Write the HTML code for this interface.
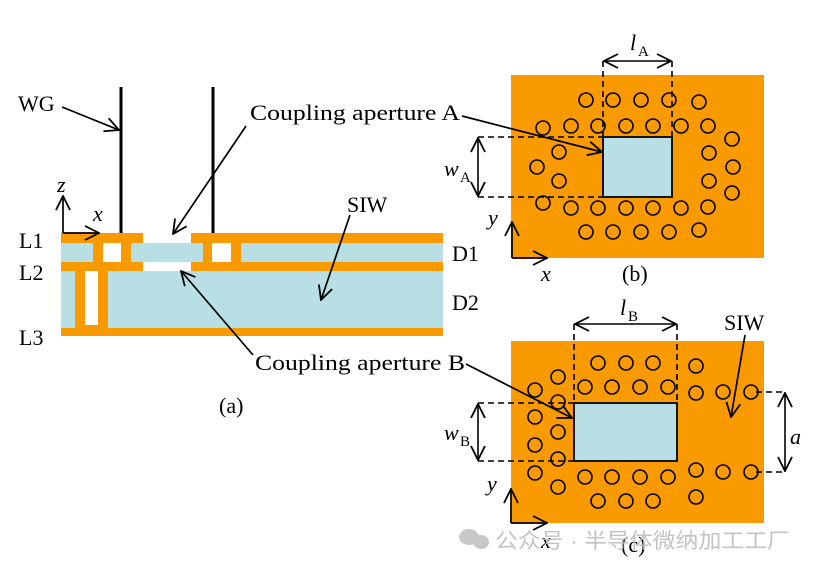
<!DOCTYPE html>
<html><head><meta charset="utf-8"><style>
html,body{margin:0;padding:0;background:#fff}
svg{display:block}
text{font-family:"Liberation Serif",serif;fill:#000}
</style></head><body>
<svg width="818" height="572" viewBox="0 0 818 572" xmlns="http://www.w3.org/2000/svg">
<defs>
<marker id="ah" viewBox="0 0 16 16" refX="15" refY="8" markerWidth="16" markerHeight="16" markerUnits="userSpaceOnUse" orient="auto-start-reverse">
<path d="M1,1 L15,8 L1,15" fill="none" stroke="#000" stroke-width="1.8"/>
</marker>
</defs>
<!-- Panel (a) -->
<rect x="61" y="233" width="382" height="103" fill="#b8dfe3"/>
<g fill="#f99b00">
<rect x="61" y="233" width="82" height="10"/>
<rect x="191" y="233" width="252" height="10"/>
<rect x="61" y="262" width="82" height="9"/>
<rect x="191" y="262" width="252" height="9"/>
<rect x="61" y="328" width="382" height="8"/>
<rect x="93" y="243" width="38" height="19"/>
<rect x="203" y="243" width="38" height="19"/>
<rect x="75" y="271" width="33" height="57"/>
</g>
<g fill="#fff">
<rect x="143" y="233" width="48" height="10"/>
<rect x="143" y="262" width="48" height="9"/>
<rect x="103" y="243" width="18" height="19"/>
<rect x="212" y="243" width="19" height="19"/>
<rect x="85" y="271" width="13" height="54"/>
</g>
<rect x="119.5" y="87" width="3" height="146" fill="#000"/>
<rect x="211.5" y="87" width="3" height="146" fill="#000"/>
<!-- Panel (b) -->
<rect x="511" y="75" width="253" height="183" fill="#f99b00"/>
<rect x="603" y="137" width="69" height="60" fill="#b8dfe3" stroke="#000" stroke-width="1.8"/>
<g fill="none" stroke="#000" stroke-width="1.6">
<circle cx="586" cy="100" r="7"/><circle cx="613" cy="100" r="7"/><circle cx="641" cy="100" r="7"/><circle cx="669" cy="100" r="7"/><circle cx="699" cy="102" r="7"/>
<circle cx="543" cy="128" r="7"/><circle cx="571" cy="126" r="7"/><circle cx="598" cy="126" r="7"/><circle cx="626" cy="126" r="7"/><circle cx="653" cy="126" r="7"/><circle cx="681" cy="126" r="7"/><circle cx="708" cy="126" r="7"/>
<circle cx="559" cy="152" r="7"/><circle cx="537" cy="167" r="7"/><circle cx="559" cy="181" r="7"/>
<circle cx="709" cy="153" r="7"/><circle cx="732" cy="139" r="7"/><circle cx="733" cy="167" r="7"/><circle cx="709" cy="181" r="7"/><circle cx="732" cy="193" r="7"/>
<circle cx="543" cy="203" r="7"/><circle cx="571" cy="208" r="7"/><circle cx="598" cy="208" r="7"/><circle cx="626" cy="208" r="7"/><circle cx="653" cy="208" r="7"/><circle cx="681" cy="208" r="7"/><circle cx="708" cy="207" r="7"/>
<circle cx="586" cy="232" r="7"/><circle cx="613" cy="232" r="7"/><circle cx="641" cy="232" r="7"/><circle cx="669" cy="232" r="7"/><circle cx="699" cy="230" r="7"/>
</g>
<g stroke="#000" stroke-width="1.6" stroke-dasharray="6,4" fill="none">
<line x1="603" y1="61" x2="603" y2="137"/><line x1="672" y1="61" x2="672" y2="137"/>
<line x1="478" y1="137" x2="603" y2="137"/><line x1="478" y1="197" x2="603" y2="197"/>
</g>
<g stroke="#000" stroke-width="1.6" fill="none" marker-end="url(#ah)" marker-start="url(#ah)">
<line x1="604" y1="61" x2="671" y2="61"/>
<line x1="478" y1="138" x2="478" y2="196"/>
</g>
<!-- Panel (c) -->
<rect x="511" y="341" width="253" height="182" fill="#f99b00"/>
<rect x="574" y="403" width="103" height="58" fill="#b8dfe3" stroke="#000" stroke-width="1.8"/>
<g fill="none" stroke="#000" stroke-width="1.6">
<circle cx="598" cy="363" r="7"/><circle cx="626" cy="363" r="7"/><circle cx="653" cy="363" r="7"/><circle cx="696" cy="366" r="7"/>
<circle cx="558" cy="377" r="7"/><circle cx="535" cy="390" r="7"/>
<circle cx="585" cy="387" r="7"/><circle cx="612" cy="387" r="7"/><circle cx="640" cy="387" r="7"/><circle cx="668" cy="387" r="7"/><circle cx="696" cy="393" r="7"/><circle cx="723" cy="392" r="7"/><circle cx="751" cy="392" r="7"/>
<circle cx="558" cy="402" r="7"/><circle cx="535" cy="417" r="7"/><circle cx="558" cy="432" r="7"/><circle cx="535" cy="445" r="7"/><circle cx="558" cy="459" r="7"/><circle cx="535" cy="473" r="7"/>
<circle cx="585" cy="477" r="7"/><circle cx="612" cy="477" r="7"/><circle cx="640" cy="477" r="7"/><circle cx="668" cy="477" r="7"/>
<circle cx="696" cy="470" r="7"/><circle cx="723" cy="472" r="7"/><circle cx="751" cy="472" r="7"/>
<circle cx="558" cy="487" r="7"/>
<circle cx="598" cy="501" r="7"/><circle cx="626" cy="501" r="7"/><circle cx="653" cy="501" r="7"/><circle cx="696" cy="497" r="7"/>
</g>
<g stroke="#000" stroke-width="1.6" stroke-dasharray="6,4" fill="none">
<line x1="574" y1="324" x2="574" y2="403"/><line x1="677" y1="324" x2="677" y2="403"/>
<line x1="478" y1="403" x2="574" y2="403"/><line x1="478" y1="461" x2="574" y2="461"/>
<line x1="756" y1="392" x2="785" y2="392"/><line x1="756" y1="472" x2="785" y2="472"/>
</g>
<g stroke="#000" stroke-width="1.6" fill="none" marker-end="url(#ah)" marker-start="url(#ah)">
<line x1="575" y1="324" x2="676" y2="324"/>
<line x1="478" y1="404" x2="478" y2="460"/>
<line x1="785" y1="393" x2="785" y2="471"/>
</g>
<!-- all single arrows on top -->
<g stroke="#000" stroke-width="1.7" fill="none" marker-end="url(#ah)">
<line x1="63" y1="233" x2="63" y2="196"/>
<line x1="63" y1="233" x2="99" y2="233"/>
<line x1="62" y1="107" x2="119" y2="130"/>
<line x1="246" y1="126" x2="173" y2="234"/>
<line x1="462" y1="116" x2="602" y2="152"/>
<line x1="350" y1="215" x2="321" y2="300"/>
<line x1="253" y1="355" x2="181" y2="271"/>
<line x1="466" y1="364" x2="572" y2="418"/>
<line x1="512" y1="258" x2="512" y2="222"/><line x1="512" y1="258" x2="547" y2="258"/>
<line x1="511" y1="523" x2="511" y2="489"/><line x1="511" y1="523" x2="547" y2="523"/>
<line x1="745" y1="335" x2="731" y2="417"/>
</g>
<g font-size="22">
<text x="18" y="111">WG</text>
<text x="250" y="120" textLength="210" lengthAdjust="spacingAndGlyphs">Coupling aperture A</text>
<text x="347" y="212">SIW</text>
<text x="255" y="370" textLength="210" lengthAdjust="spacingAndGlyphs">Coupling aperture B</text>
<text x="219" y="413">(a)</text>
<text x="19" y="248">L1</text>
<text x="19" y="280">L2</text>
<text x="19" y="345">L3</text>
<text x="452" y="261">D1</text>
<text x="452" y="310">D2</text>
<text x="57" y="192" font-style="italic">z</text>
<text x="93" y="221" font-style="italic">x</text>
<text x="630" y="50" font-style="italic">l</text><text x="638" y="56" font-size="15">A</text>
<text x="444" y="176" font-style="italic">w</text><text x="460" y="182" font-size="15">A</text>
<text x="488" y="225" font-style="italic">y</text>
<text x="541" y="281" font-style="italic">x</text>
<text x="622" y="281">(b)</text>
<text x="620" y="315" font-style="italic">l</text><text x="628" y="321" font-size="15">B</text>
<text x="444" y="440" font-style="italic">w</text><text x="460" y="446" font-size="15">B</text>
<text x="790" y="444" font-style="italic">a</text>
<text x="724" y="330">SIW</text>
<text x="487" y="491" font-style="italic">y</text>
<text x="541" y="548" font-style="italic">x</text>
<text x="621" y="552">(c)</text>
</g>
<!-- watermark -->
<g fill="#c8c8c8"><ellipse cx="469" cy="537" rx="10" ry="8"/><ellipse cx="481" cy="542" rx="8" ry="7"/></g>
<text x="495" y="548" font-size="21" textLength="295" lengthAdjust="spacingAndGlyphs" style='font-family:"Liberation Sans","Noto Sans CJK SC",sans-serif;fill:#bdbdbd;opacity:0.9'>公众号 · 半导体微纳加工工厂</text>
</svg>
</body></html>
